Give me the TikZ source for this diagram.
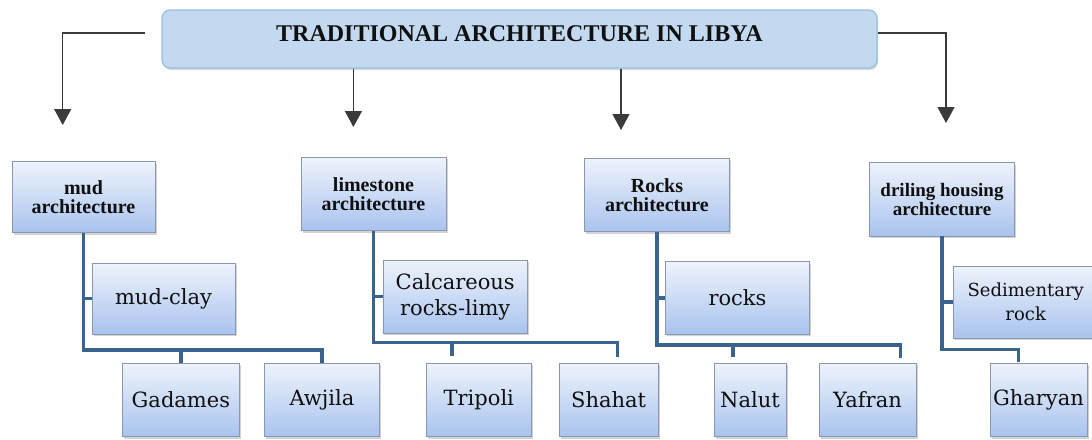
\documentclass[tikz,border=0pt]{standalone}
\usepackage{fontspec}
\setmainfont{Liberation Serif}
\newfontfamily\regfont{DejaVu Serif}
\usetikzlibrary{arrows.meta,shadows}
\definecolor{connc}{HTML}{3B6390}
\definecolor{boxtop}{HTML}{EEF3FC}
\definecolor{boxbot}{HTML}{A9C3EE}
\definecolor{boxline}{HTML}{8A98AD}
\definecolor{titlefill}{HTML}{C3D9EF}
\definecolor{titleline}{HTML}{93C2D8}
\definecolor{arrc}{HTML}{3A3A3A}
\definecolor{txt}{HTML}{101010}
\begin{document}
\begin{tikzpicture}[x=1pt,y=-1pt,
  box/.style={draw=boxline, line width=0.8pt, top color=boxtop, bottom color=boxbot,
    inner sep=0pt, align=center, text=txt,
    drop shadow={shadow xshift=1.5pt,shadow yshift=-2pt,opacity=0.35}},
  cat/.style={box, font=\rmfamily\fontsize{20}{19.5}\bfseries\selectfont},
  sub/.style={box, font=\regfont\fontsize{21}{26}\selectfont},
  leaf/.style={box, font=\regfont\fontsize{21}{26}\selectfont, minimum height=73.5pt},
  titlebox/.style={draw=titleline, line width=1.2pt, fill=titlefill, rounded corners=8pt,
    text=txt, font=\rmfamily\fontsize{24}{26}\bfseries\selectfont, text height=16pt, text depth=10.5pt,
    drop shadow={shadow xshift=1pt,shadow yshift=-2pt,opacity=0.3}},
  arr/.style={draw=arrc, line width=1.4pt, -{Triangle[width=17pt,length=16pt]}},
  conn/.style={draw=connc, line width=3.5pt}]
\useasboundingbox (0,0) rectangle (1092,439);

% title
\node[titlebox, minimum width=715pt, minimum height=58pt] (title) at (519.5,39) {TRADITIONAL ARCHITECTURE IN LIBYA};

% categories
\node[cat, minimum width=143pt, minimum height=71pt] (c1) at (83.5,197.2) {mud\\architecture};
\node[cat, minimum width=145pt, minimum height=73.4pt] (c2) at (373.5,194) {limestone\\architecture};
\node[cat, minimum width=144.4pt, minimum height=73.4pt] (c3) at (657,195) {Rocks\\architecture};
\node[cat, minimum width=144.5pt, minimum height=73.3pt, font=\rmfamily\fontsize{19}{19}\bfseries\selectfont] (c4) at (942,199.3) {driling housing\\architecture};

% sub boxes
\node[sub, minimum width=143pt, minimum height=70.7pt] (s1) at (163.5,298.7) {mud-clay};
\node[sub, minimum width=144.5pt, minimum height=73.3pt] (s2) at (455.2,296.7) {Calcareous\\rocks-limy};
\node[sub, minimum width=144.2pt, minimum height=72.3pt] (s3) at (737.5,297.8) {rocks};
\node[sub, minimum width=144.5pt, minimum height=72.3pt, font=\regfont\fontsize{18}{24}\selectfont] (s4) at (1025.7,302.2) {Sedimentary\\rock};

% leaves
\node[leaf, minimum width=116.3pt] (l1) at (180.9,399.8) {Gadames};
\node[leaf, minimum width=115pt] (l2) at (322,399.8) {Awjila};
\node[leaf, minimum width=104.5pt] (l3) at (478.8,399.8) {Tripoli};
\node[leaf, minimum width=98.8pt] (l4) at (608.6,399.8) {Shahat};
\node[leaf, minimum width=72pt] (l5) at (750,399.8) {Nalut};
\node[leaf, minimum width=97pt] (l6) at (867.5,399.8) {Yafran};
\node[leaf, minimum width=97pt] (l7) at (1038.5,399.8) {Gharyan};

% arrows from the title
\coordinate (a1) at (62.7,125);
\coordinate (a2) at (353.4,127);
\coordinate (a3) at (621,130);
\coordinate (a4) at (946,123);
\draw[arr] ([xshift=-16pt,yshift=6pt]title.west) -| (a1);
\draw[arr] (title.south -| a2) -- (a2);
\draw[arr] (title.south -| a3) -- (a3);
\draw[arr] ([yshift=6pt]title.east) -| (a4);

% mud connectors
\coordinate (j1) at (83.5,350);
\draw[conn] (c1.south) -- (j1) -| (l2.north);
\draw[conn] (c1.south |- s1.west) -- (s1.west);
\draw[conn] (l1.north |- j1) -- (l1.north);

% limestone connectors
\coordinate (j2) at (373.5,342.7);
\coordinate (d3) at (452,356);
\coordinate (d4) at (617.4,356.7);
\draw[conn] (c2.south) -- (j2) -| (d4);
\draw[conn] (c2.south |- s2.west) -- (s2.west);
\draw[conn] (d3 |- j2) -- (d3);

% rocks connectors
\coordinate (j3) at (657,345);
\coordinate (d5) at (733,357);
\coordinate (d6) at (900.5,358);
\draw[conn] (c3.south) -- (j3) -| (d6);
\draw[conn] (c3.south |- s3.west) -- (s3.west);
\draw[conn] (d5 |- j3) -- (d5);

% driling connectors
\coordinate (j4) at (942,349.3);
\coordinate (d7) at (1018.5,361.7);
\draw[conn] (c4.south) -- (j4) -| (d7);
\draw[conn] (c4.south |- s4.west) -- (s4.west);
\end{tikzpicture}
\end{document}
